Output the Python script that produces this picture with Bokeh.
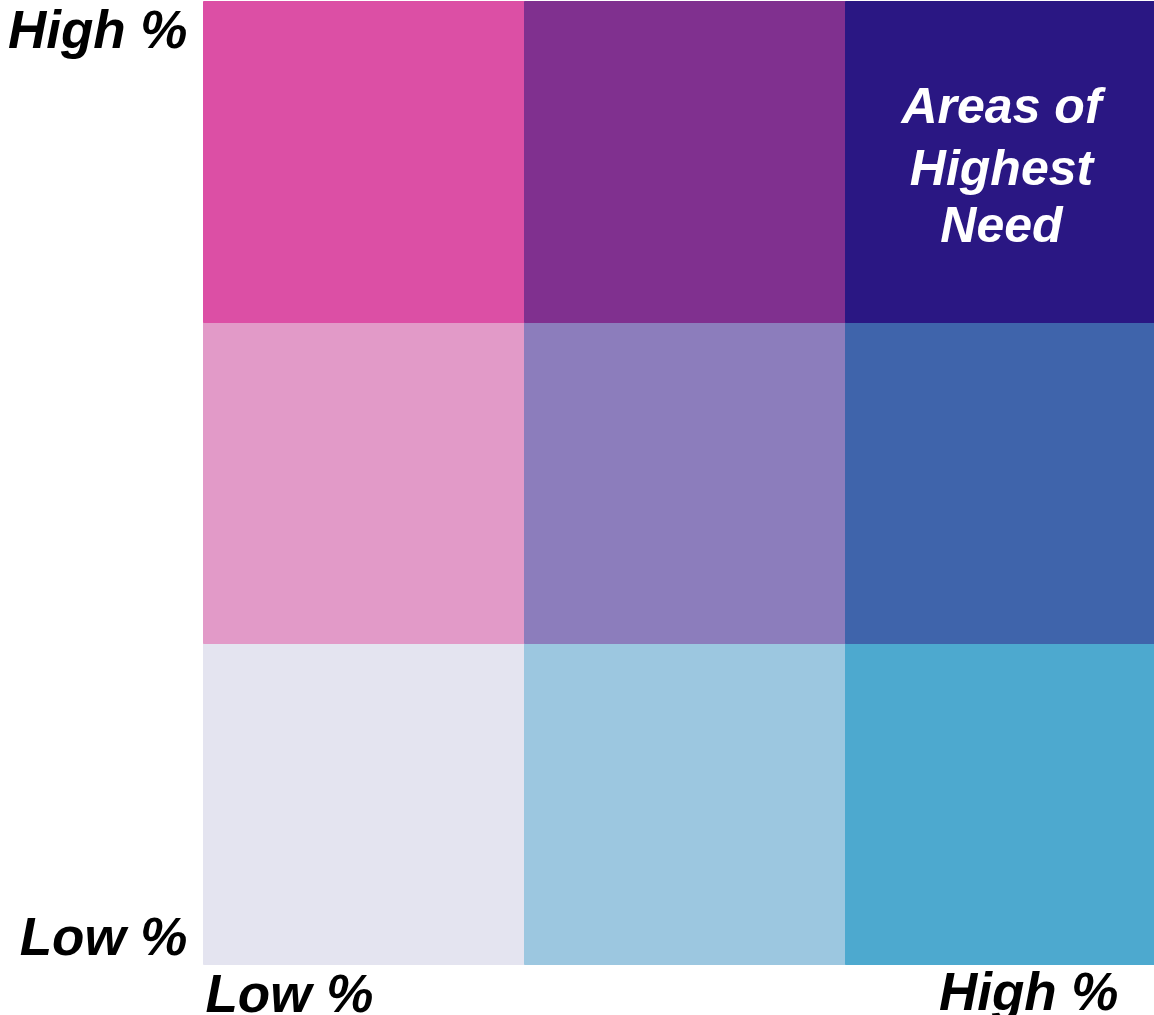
from bokeh.plotting import figure
from bokeh.models import Range1d, ColumnDataSource
from bokeh.core.properties import value
from bokeh.embed import file_html
from bokeh.resources import INLINE

# ---- data ----
col_levels = ["Low", "Mid", "High"]          # x: share (low -> high)
row_levels = ["Low", "Mid", "High"]          # y: share (low -> high)
# colours by row (bottom -> top), each row left -> right
colors_by_row = [
    ["#E4E4F0", "#9CC7E0", "#4DA9CF"],
    ["#E29AC8", "#8C7DBC", "#3F64AB"],
    ["#DC4FA5", "#80308F", "#2A1783"],
]
x_tick_labels = ["Low %", "High %"]
y_tick_labels = ["Low %", "High %"]
note_lines = ["Areas of", "Highest", "Need"]

# ---- layout (pixels) ----
W, H = 1154, 1015
CELL = 321.0
GRID_LEFT = 203.0           # grid left edge inside canvas
GRID_BOTTOM = 964.0         # grid bottom edge from canvas top

x0 = -GRID_LEFT / CELL
x1 = (W - GRID_LEFT) / CELL
y1 = GRID_BOTTOM / CELL
y0 = -(H - GRID_BOTTOM) / CELL

p = figure(width=W, height=H, output_backend="svg", toolbar_location=None,
           x_range=Range1d(x0, x1), y_range=Range1d(y0, y1),
           x_axis_location=None, y_axis_location=None, min_border=0)
p.outline_line_color = None
p.xgrid.visible = False
p.ygrid.visible = False
p.background_fill_color = "white"
p.border_fill_color = "white"

xs, ys, cs = [], [], []
for r, row in enumerate(colors_by_row):
    for c, col in enumerate(row):
        xs.append(c + 0.5)
        ys.append(r + 0.5)
        cs.append(col)
src = ColumnDataSource(dict(x=xs, y=ys, c=cs))
p.rect(x="x", y="y", width=1, height=1, source=src,
       fill_color="c", line_color="c", line_width=1)

FONT = value("Liberation Sans")
LBL = "53px"

# left (y) labels
p.text(x=[-16 / CELL] * 2, y=[28 / CELL, 935 / CELL],
       text=y_tick_labels, text_align="right", text_baseline="middle",
       text_font=FONT, text_font_style="bold italic", text_font_size=LBL,
       text_color="black")

# bottom (x) labels
p.text(x=[2 / CELL], y=[-29 / CELL], text=[x_tick_labels[0]],
       text_align="left", text_baseline="middle",
       text_font=FONT, text_font_style="bold italic", text_font_size=LBL,
       text_color="black")
p.text(x=[915 / CELL], y=[-27 / CELL], text=[x_tick_labels[1]],
       text_align="right", text_baseline="middle",
       text_font=FONT, text_font_style="bold italic", text_font_size=LBL,
       text_color="black")

# annotation in the high/high cell
note_x = [798 / CELL] * len(note_lines)
note_y = [859 / CELL, 797 / CELL, 740 / CELL]
p.text(x=note_x, y=note_y, text=note_lines, text_align="center",
       text_baseline="middle", text_font=FONT, text_font_style="bold italic",
       text_font_size="50px", text_color="white")

open("out.html", "w").write(file_html(p, INLINE))
